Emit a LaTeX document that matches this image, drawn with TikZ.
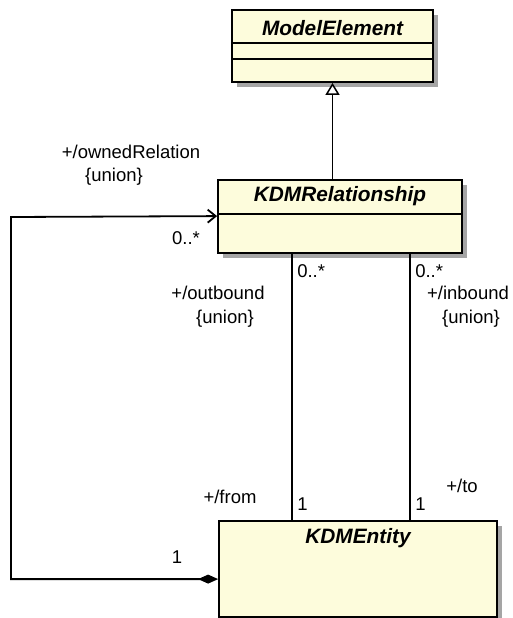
\documentclass[tikz,border=0pt]{standalone}
\usepackage{fontspec}
\setmainfont{Liberation Sans}
\usepackage{tikz}
\usetikzlibrary{positioning}
\usetikzlibrary{calc}
\usetikzlibrary{arrows.meta}
\usepackage{xcolor}
\definecolor{umlfill}{RGB}{253,252,220}
\definecolor{umlgray}{RGB}{165,165,165}

\begin{document}
\begin{tikzpicture}[x=1pt, y=-1pt,
		umlshade/.style={rectangle, inner sep=0pt, fill=umlgray},
		umlclass/.style={rectangle, inner sep=0pt, fill=umlfill, draw=black, line width=1.8pt},
		umlname/.style={font=\fontsize{20.8}{24}\selectfont\bfseries\itshape, inner sep=0pt},
		umltext/.style={font=\fontsize{18.5}{22}\selectfont, inner sep=0pt},
		umlline/.style={black, line width=1.8pt}]
			    		\clip (0,0) rectangle (513,618);
			    		\node[umlshade, minimum width=201pt, minimum height=72pt] (meShade) at (337.5,51) {};
			    		\node[umlshade, minimum width=244pt, minimum height=73pt] (relShade) at (345,221.5) {};
			    		\node[umlshade, minimum width=278pt, minimum height=96pt] (entShade) at (363,574) {};
			    		\node[umlclass, minimum width=201pt, minimum height=72pt] (me) at (332.5,46) {};
			    		\node[umlname] (meName) at ($(me.north)+(0,19)$) {ModelElement};
			    		\draw[umlline] ($(me.north west)+(0,34)$) -- ($(me.north east)+(0,34)$);
			    		\draw[umlline] ($(me.north west)+(0,50)$) -- ($(me.north east)+(0,50)$);
			    		\node[umlclass, minimum width=244pt, minimum height=73pt] (rel) at (340,216.5) {};
			    		\node[umlname] (relName) at ($(rel.north)+(0,17)$) {KDMRelationship};
			    		\draw[umlline] ($(rel.north west)+(0,35)$) -- ($(rel.north east)+(0,35)$);
			    		\node[umlclass, minimum width=278pt, minimum height=96pt] (ent) at (358,569) {};
			    		\node[umlname] (entName) at ($(ent.north)+(0,18)$) {KDMEntity};
			    		\draw[umlline, -{Triangle[open, fill=white, length=12pt, width=14pt, line width=1.5pt]}] (me.south |- rel.north) -- (me.south);
			    		\coordinate (outTop) at ($(rel.south west)+(75,0)$);
			    		\coordinate (inTop) at ($(rel.south west)+(193,0)$);
			    		\draw[umlline] (outTop) -- (outTop |- ent.north);
			    		\draw[umlline] (inTop) -- (inTop |- ent.north);
			    		\coordinate (ownStart) at ($(ent.north west)+(0,59)$);
			    		\coordinate (ownEnd) at ($(rel.north west)+(0,37)$);
			    		\coordinate (ownBend) at (11,217);
			    		\draw[umlline, {Diamond[length=20pt, width=9pt]}-{Straight Barb[length=8pt, width=13pt]}] (ownStart) -| (ownBend) -- (ownEnd);
			    		\node[umltext] (ownedLbl) at (131,152) {+/ownedRelation};
			    		\node[umltext] (ownedUnion) at (114,177) {\{union\}};
			    		\node[umltext] (ownedMul) at (186,238) {0..*};
			    		\node[umltext, anchor=west] (outMul) at ($(outTop)+(5,17)$) {0..*};
			    		\node[umltext, anchor=west] (inMul) at ($(inTop)+(5,17)$) {0..*};
			    		\node[umltext] (outLbl) at (218,293) {+/outbound};
			    		\node[umltext] (outUnion) at (225,319) {\{union\}};
			    		\node[umltext] (inLbl) at (468,293) {+/inbound};
			    		\node[umltext] (inUnion) at (471,319) {\{union\}};
			    		\node[umltext] (fromLbl) at (230,497) {+/from};
			    		\node[umltext, anchor=west] (fromMul) at ($(outTop |- ent.north)+(5,-16)$) {1};
			    		\node[umltext] (toLbl) at (462,486) {+/to};
			    		\node[umltext, anchor=west] (toMul) at ($(inTop |- ent.north)+(5,-16)$) {1};
			    		\node[umltext] (ownerMul) at (177,557) {1};
			    	\end{tikzpicture}
\end{document}
